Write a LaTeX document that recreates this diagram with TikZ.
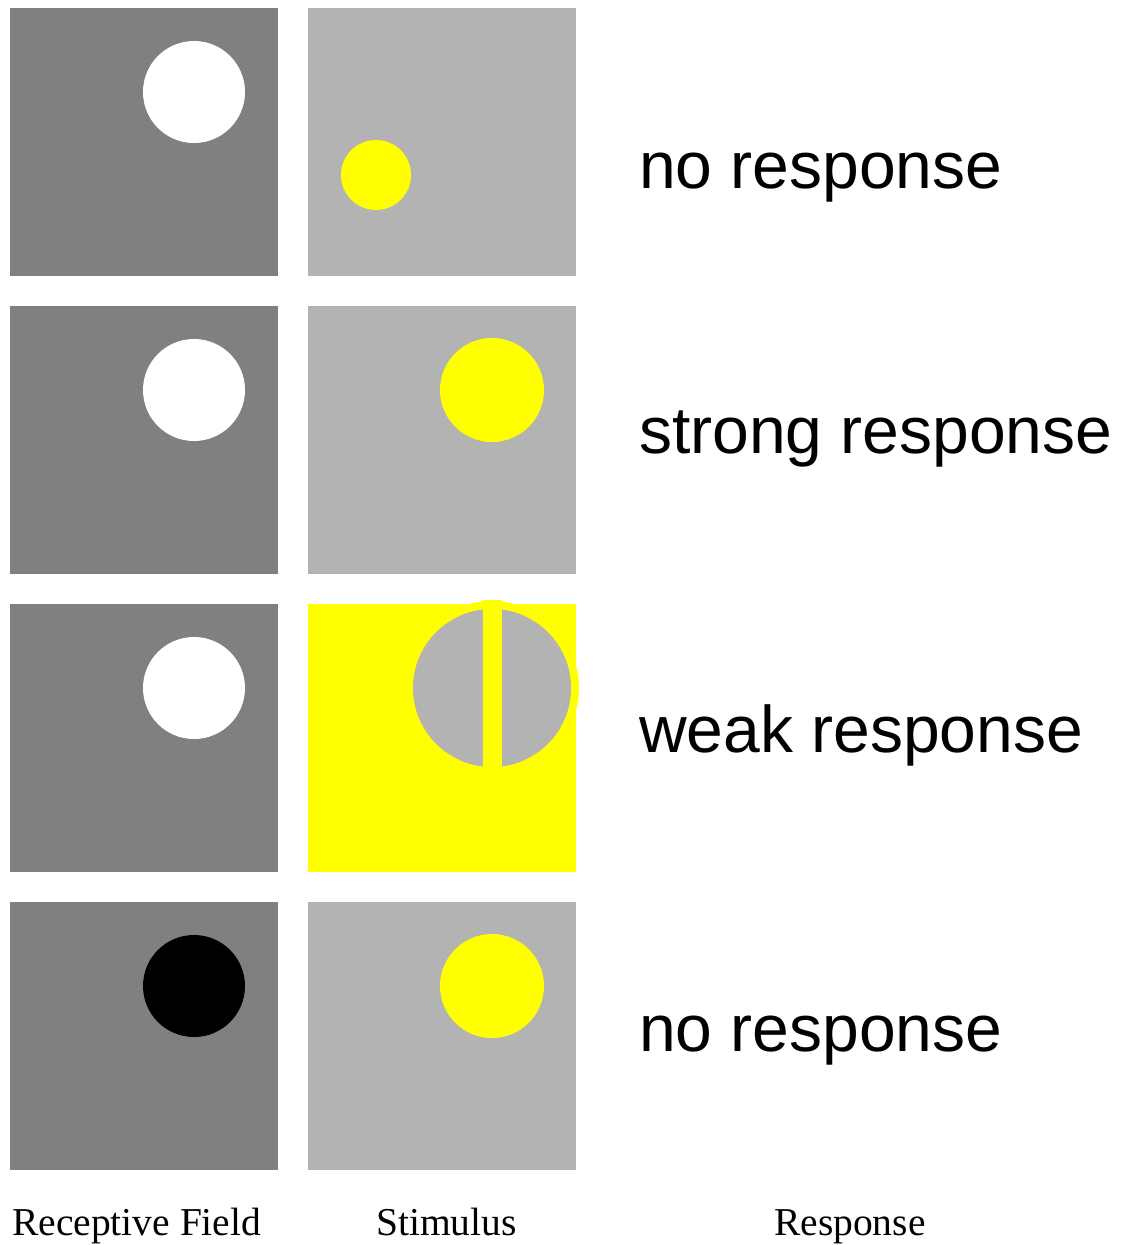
\documentclass[tikz,border=0pt]{standalone}
\usepackage{fontspec}
\setmainfont{Liberation Serif}
\newfontfamily\arialf{Liberation Sans}
\definecolor{rfgray}{HTML}{808080}
\definecolor{stgray}{HTML}{B3B3B3}
\definecolor{ylw}{HTML}{FFFF00}
\begin{document}
\begin{tikzpicture}[x=1pt,y=-1pt,
  resp/.style={anchor=base west,inner sep=0pt,font=\arialf\fontsize{66}{66}\selectfont},
  lab/.style={anchor=base west,inner sep=0pt,font=\fontsize{39.5}{40}\selectfont}]
\useasboundingbox (0,0) rectangle (1122,1245);
% column 1: receptive fields
\foreach \r in {0,1,2,3}{
  \fill[rfgray] (10,8+298*\r) rectangle (278,276+298*\r);
}
\fill[white] (194,92) circle (51);
\fill[white] (194,390) circle (51);
\fill[white] (194,688) circle (51);
\fill[black] (194,986) circle (51);
% column 2: stimuli
\fill[stgray] (308,8) rectangle (576,276);
\fill[ylw] (376,175) circle (35);
\fill[stgray] (308,306) rectangle (576,574);
\fill[ylw] (492,390) circle (52);
\fill[ylw] (308,604) rectangle (576,872);
\fill[ylw] (492,688) circle (87);
\fill[stgray] (492,688) circle (79);
\fill[ylw] (483,600) rectangle (502,776);
\fill[stgray] (308,902) rectangle (576,1170);
\fill[ylw] (492,986) circle (52);
% responses
\node[resp] (r1) at (639,188) {no response};
\node[resp] (r2) at (639,453) {strong response};
\node[resp] (r3) at (639,752) {weak response};
\node[resp] (r4) at (639,1051) {no response};
% column labels
\node[lab] (l1) at (12,1235) {Receptive Field};
\node[lab] (l2) at (376,1235) {Stimulus};
\node[lab] (l3) at (774,1235) {Response};
\end{tikzpicture}
\end{document}
